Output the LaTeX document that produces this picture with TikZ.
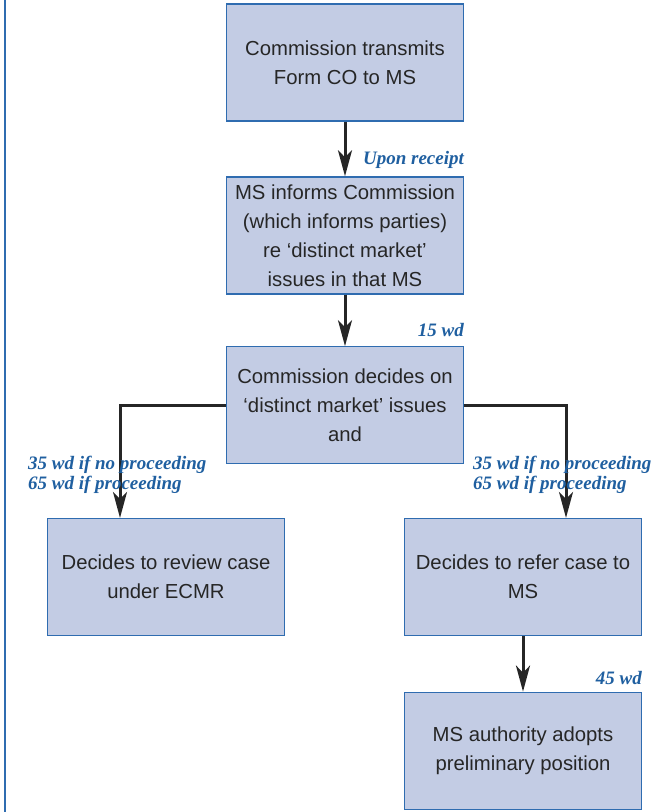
\documentclass[tikz,border=0pt]{standalone}
\usepackage{fontspec}
\setmainfont{Liberation Serif}
\newfontfamily\boxfont{Liberation Sans}
\usetikzlibrary{arrows.meta, positioning}
\definecolor{boxfill}{HTML}{C3CCE4}
\definecolor{boxline}{HTML}{2F6CB0}
\definecolor{wdblue}{HTML}{1F5FA0}

\begin{document}
\begin{tikzpicture}[
          x=1pt, y=1pt,
          node distance=54pt,
          box/.style={rectangle, draw=boxline, fill=boxfill, line width=1.2pt,
                      minimum width=237pt, minimum height=117pt, align=center,
                      text=black!85, font=\boxfont\fontsize{20.3}{29}\selectfont},
          arr/.style={-{Stealth[length=26pt, width=14pt, inset=7pt]}, line width=3pt,
                      draw=black!85},
          wd/.style={font=\bfseries\itshape\fontsize{19}{20}\selectfont,
                     text=wdblue, inner sep=0pt, align=left},
        ]
          \useasboundingbox (0,0) rectangle (656,-812);
          \draw[boxline, line width=2.5pt] (5.2,0) -- (5.2,-812);
          \node[box] (send) at (345,-62.5) {Commission transmits\\Form CO to MS};
          \node[box, below=54.7pt of send] (inform) {MS informs Commission\\(which informs parties)\\re ‘distinct market’\\issues in that MS};
          \node[box, below=51.7pt of inform] (decide) {Commission decides on\\‘distinct market’ issues\\and};
          \node[box, below=53.5pt of decide, xshift=-179pt] (review) {Decides to review case\\under ECMR};
          \node[box, below=53.5pt of decide, xshift=178pt] (refer) {Decides to refer case to\\MS};
          \node[box, below=55.5pt of refer] (adopt) {MS authority adopts\\preliminary position};
          \draw[arr] (send)--(inform);
          \draw[arr] (inform)--(decide);
          \draw[arr] (decide.west)-|([xshift=-46pt]review.north);
          \draw[arr] (decide.east)-|([xshift=43pt]refer.north);
          \draw[arr] (refer)--(adopt);
          \node[wd, anchor=base east] (receipt) at ([yshift=12pt]inform.north east) {Upon receipt};
          \node[wd, anchor=base east] (fifteen) at ([yshift=10pt]decide.north east) {15 wd};
          \node[wd, anchor=base east] (fortyfive) at ([yshift=7pt]adopt.north east) {45 wd};
          \node[wd, anchor=north west] (leftwd) at ([xshift=-19pt, yshift=62pt]review.north west) {35 wd if no proceeding\\65 wd if proceeding};
          \node[wd, anchor=north west] (rightwd) at ([xshift=69pt, yshift=62pt]refer.north west) {35 wd if no proceeding\\65 wd if proceeding};
        \end{tikzpicture}
\end{document}
